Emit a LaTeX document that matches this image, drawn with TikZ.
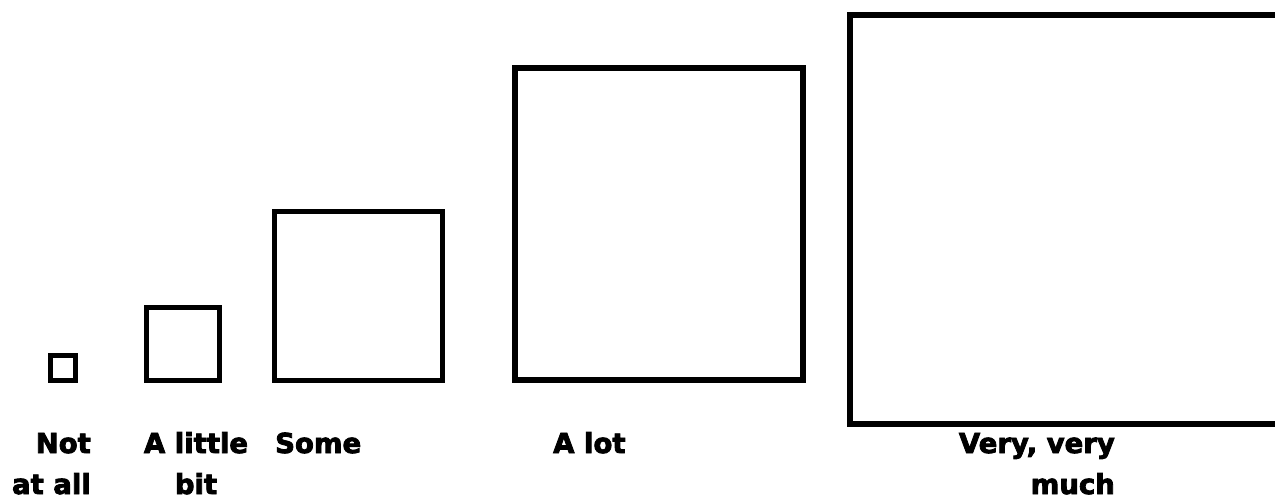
\documentclass[tikz,border=0pt]{standalone}
\usepackage{fontspec}
\usepackage{tikz}
\usetikzlibrary{positioning}
\newfontfamily\labelfont{DejaVu Sans Bold}[FakeBold=3]
\tikzset{
  sizebox/.style={draw,line width=5.5pt},
  bigbox/.style={draw,line width=6.5pt},
  sizelabel/.style={font=\labelfont\fontsize{27.5}{41}\selectfont,inner sep=0pt}
}
\begin{document}
\begin{tikzpicture}[x=1pt,y=-1pt]
  \clip (0,0) rectangle (1275,500);
  \fill[white] (0,0) rectangle (1275,500);

  % boxes, smallest to largest
  \draw[sizebox] (50.5,355.5) rectangle (75.5,380.5);
  \draw[sizebox] (146.5,307.5) rectangle (219.5,380.5);
  \draw[sizebox] (274.5,211.5) rectangle (442.5,380.5);
  \draw[bigbox] (515,68) rectangle (803,380);
  \draw[bigbox] (850,15) rectangle (1300,424);

  % labels
  \node[sizelabel,anchor=base east,align=right] (notatall) at (91,494) {Not\\at all};
  \node[sizelabel,anchor=base,align=center] (littlebit) at (196,494) {A little\\bit};
  \node[sizelabel,anchor=base west] (some) at (275,453) {Some};
  \node[sizelabel,anchor=base west] (alot) at (553,453) {A lot};
  \node[sizelabel,anchor=base east,align=right] (verymuch) at (1115,494) {Very, very\\much};
\end{tikzpicture}
\end{document}
